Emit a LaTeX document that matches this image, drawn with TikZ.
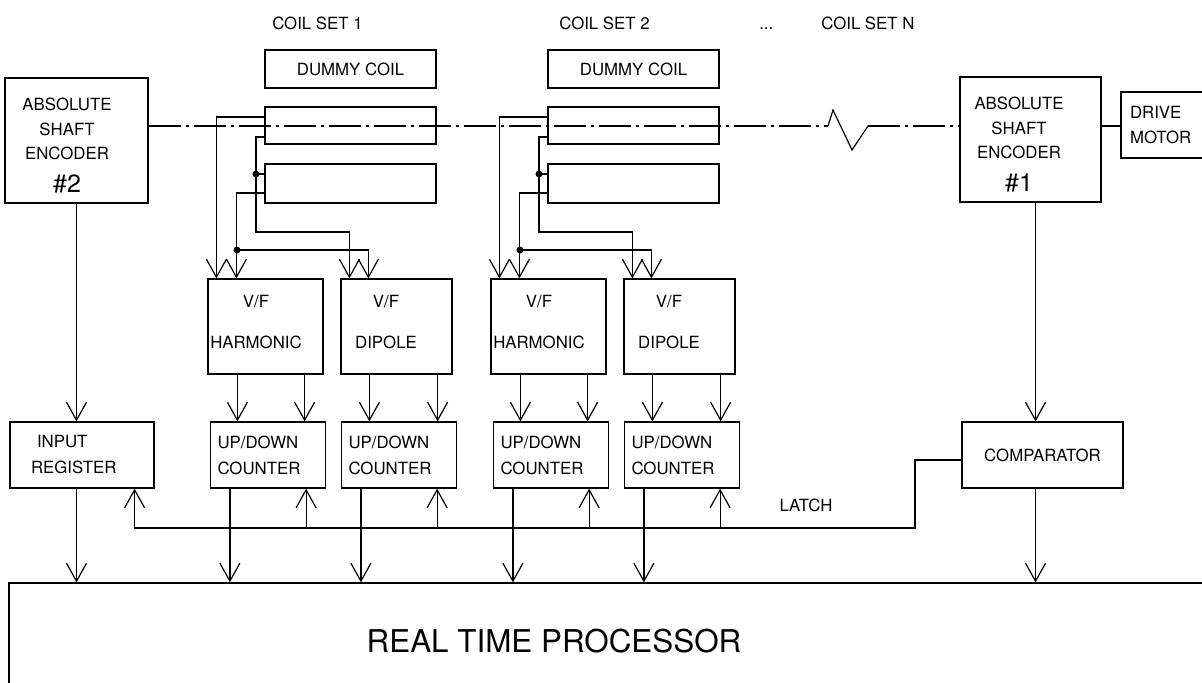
\documentclass[tikz,border=0pt]{standalone}
\usepackage{fontspec}
\setmainfont{TeX Gyre Heros}
\usetikzlibrary{arrows.meta}

\tikzset{
  blk/.style={draw, rectangle, inner sep=0pt},
  txt/.style={align=center, inner sep=0pt},
  cnt/.style={blk, minimum width=57.5pt, minimum height=33pt,
    inner xsep=3.5pt, text width=50.5pt, align=left},
  arr/.style={-{Straight Barb[length=9pt,width=10pt]}},
  shaft/.style={dash pattern=on 16pt off 2.5pt on 1.5pt off 2.5pt},
}

\begin{document}
\begin{tikzpicture}[x=0.5pt, y=-0.5pt, line width=0.6pt,
    font=\fontsize{8.4}{12.25}\selectfont]
  \useasboundingbox (0,0) rectangle (1202,682);
  \clip (0,0) rectangle (1202,682);
  % encoders and motor
  \node[blk, minimum width=71.5pt, minimum height=62.5pt,
    label={[txt, xshift=-4.75pt, yshift=-2.5pt]center:{ABSOLUTE\\SHAFT\\ENCODER\\[4.25pt]{\fontsize{12.5}{14}\selectfont\#2}}}]
    (enc2) at (76.5,140.5) {};
  \node[blk, minimum width=70.5pt, minimum height=62.5pt,
    label={[txt, xshift=-5.75pt, yshift=-2.5pt]center:{ABSOLUTE\\SHAFT\\ENCODER\\[4.25pt]{\fontsize{12.5}{14}\selectfont\#1}}}]
    (enc1) at (1030.5,139.5) {};
  \node[blk, minimum height=33pt, inner xsep=4.5pt, text width=38pt, align=left]
    (motor) at (1168,125) {DRIVE\\MOTOR};
  % register, comparator, processor
  \node[blk, minimum height=33pt, inner xsep=10.5pt, text width=51pt, align=left]
    (reg) at (82,455) {\hspace*{3pt}INPUT\\[0.75pt]REGISTER};
  \node[blk, minimum width=80.5pt, minimum height=33pt] (comp) at (1042.5,455) {COMPARATOR};
  \node[blk, minimum width=603pt, minimum height=58.5pt,
    label={[xshift=-29pt, font=\fontsize{15.7}{18}\selectfont]center:REAL TIME PROCESSOR}]
    (rtp) at (612,641.5) {};
  % coil set headings
  \node[anchor=base west] (set1) at (265,29) {COIL SET 1};
  \node[anchor=base west] (set2) at (552,29) {COIL SET 2};
  \node[anchor=base west] (setdots) at (752,29) {...};
  \node[anchor=base west] (setn) at (814,29) {COIL SET N};
  % shaft with break
  \coordinate (brk) at (828,126);
  \coordinate (brkend) at (868,126);
  \draw[shaft] ([yshift=7.25pt]enc2.east) -- (brk);
  \draw (brk) -- ++(2.5pt,8pt) -- ++(9.5pt,-20pt) -- (brkend);
  \draw[shaft] (brkend) -- (brkend -| enc1.west);
  \draw (brkend -| enc1.east) -- (brkend -| motor.west);
  % latch line
  \coordinate (latchbend) at (915,528);
  \draw[arr] ([yshift=-2.5pt]comp.west) -| (latchbend) -| ([xshift=-10pt]reg.south east);
  \node (latch) at (806,505) {LATCH};
  % encoders down to register and comparator, then into processor
  \draw[arr] (enc2.south) -- (enc2.south |- reg.north);
  \draw[arr] (enc2.south |- reg.south) -- (enc2.south |- rtp.north);
  \draw[arr] ([xshift=2.5pt]enc1.south) -- ([xshift=2.5pt]enc1.south |- comp.north);
  \draw[arr] ([xshift=2.5pt]enc1.south |- comp.south) -- ([xshift=2.5pt]enc1.south |- rtp.north);
  % the coil sets
  \foreach \s/\dx in {1/0, 2/141.5} {
    \begin{scope}[xshift=\dx pt]
      \node[blk, minimum width=85.5pt, minimum height=19pt] (dummy\s) at (350.5,69) {DUMMY COIL};
      \node[blk, minimum width=85.5pt, minimum height=18.5pt] (coilu\s) at (350.5,125.5) {};
      \node[blk, minimum width=85.5pt, minimum height=19.5pt] (coill\s) at (350.5,183.5) {};
      \node[blk, minimum width=57.5pt, minimum height=47.5pt,
        label={[txt, xshift=-4.75pt, yshift=2pt]center:{V/F\\[8.25pt]HARMONIC}}]
        (harm\s) at (265.5,326.5) {};
      \node[blk, minimum width=55.5pt, minimum height=47.5pt,
        label={[txt, xshift=-5.25pt, yshift=2pt]center:{V/F\\[8.25pt]DIPOLE}}]
        (dip\s) at (396.5,326.5) {};
      \node[cnt] (cnta\s) at (268,455) {UP/DOWN\\[0.75pt]COUNTER};
      \node[cnt] (cntb\s) at (399,455) {UP/DOWN\\[0.75pt]COUNTER};
      \coordinate (jb\s) at (256,232);
      \coordinate (jc\s) at (237,250);
      % coil leads
      \draw[arr] ([yshift=4.25pt]coilu\s.west) -| ([xshift=4.5pt]harm\s.north west);
      \draw[arr] ([yshift=-5.75pt]coilu\s.west) -| (jb\s) -| ([xshift=4.5pt]dip\s.north west);
      \draw ([yshift=4.75pt]coill\s.west) -- ([yshift=4.75pt]coill\s.west -| jb\s);
      \draw[arr] ([yshift=-4.75pt]coill\s.west) -| ([xshift=14.5pt]harm\s.north west);
      \draw[arr] (jc\s) -| ([xshift=14pt]dip\s.north west);
      \fill ([yshift=4.75pt]coill\s.west -| jb\s) circle[radius=1.75pt];
      \fill (jc\s) circle[radius=1.75pt];
      % V/F to counters
      \draw[arr] ([xshift=15pt]harm\s.south west) -- ([xshift=15pt]harm\s.south west |- cnta\s.north);
      \draw[arr] ([xshift=-9.5pt]harm\s.south east) -- ([xshift=-9.5pt]harm\s.south east |- cnta\s.north);
      \draw[arr] ([xshift=14.5pt]dip\s.south west) -- ([xshift=14.5pt]dip\s.south west |- cntb\s.north);
      \draw[arr] ([xshift=-7.5pt]dip\s.south east) -- ([xshift=-7.5pt]dip\s.south east |- cntb\s.north);
    \end{scope}
  }
  % counters to processor, latch up to counters
  \foreach \c in {cnta1, cntb1, cnta2, cntb2} {
    \draw[arr] ([xshift=10pt]\c.south west) -- ([xshift=10pt]\c.south west |- rtp.north);
    \draw[arr] ([xshift=-10pt]\c.south east |- latchbend) -- ([xshift=-10pt]\c.south east);
  }
\end{tikzpicture}
\end{document}
